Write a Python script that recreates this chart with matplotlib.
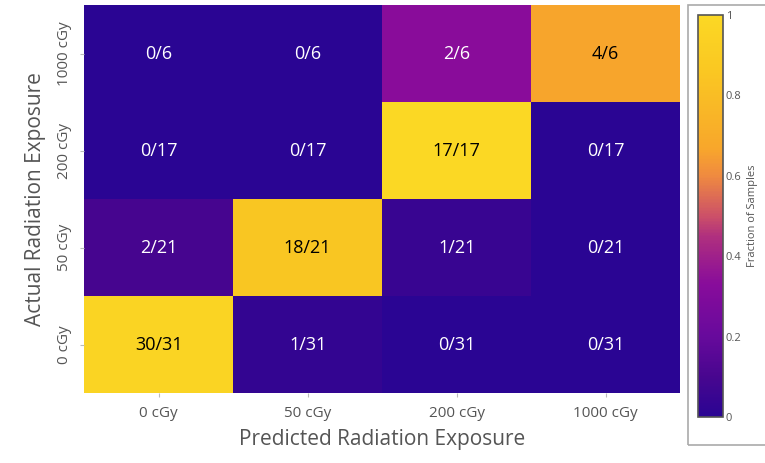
import matplotlib
matplotlib.use('Agg')
import matplotlib.pyplot as plt
import numpy as np
from matplotlib.colors import LinearSegmentedColormap
from matplotlib.patches import Rectangle

# Confusion matrix (rows = actual, columns = predicted)
dose_labels = ["0 cGy", "50 cGy", "200 cGy", "1000 cGy"]
row_0 = [30, 1, 0, 0]
row_50 = [2, 18, 1, 0]
row_200 = [0, 0, 17, 0]
row_1000 = [0, 0, 2, 4]
row_totals = [31, 21, 17, 6]

counts = np.array([row_0, row_50, row_200, row_1000])
frac = counts / np.array(row_totals)[:, None]

# colour scale
cmap = LinearSegmentedColormap.from_list("plasma_like", [
    (0.0, "#2a0593"), (0.1, "#48068f"), (0.2, "#670a9c"), (0.33, "#880c9b"),
    (0.45, "#b0307e"), (0.5, "#cc5068"), (0.6, "#ef8a40"), (0.67, "#f8a72b"),
    (0.86, "#fac722"), (1.0, "#fbd824")])

plt.rcParams['font.family'] = ['Open Sans', 'DejaVu Sans']
gray = '#555555'

fig = plt.figure(figsize=(7.65, 4.63), dpi=100)
ax = fig.add_axes([0.110, 0.151, 0.779, 0.838])
im = ax.imshow(frac, cmap=cmap, vmin=0, vmax=1, origin='lower', aspect='auto')

for i in range(len(dose_labels)):
    for j in range(len(dose_labels)):
        color = 'black' if frac[i, j] > 0.6 else 'white'
        ax.text(j, i, f"{counts[i, j]}/{row_totals[i]}", ha='center', va='center',
                fontsize=13, color=color)

ax.set_xticks(range(len(dose_labels)))
ax.set_xticklabels(dose_labels, fontsize=11, color=gray)
ax.set_yticks(range(len(dose_labels)))
ax.set_yticklabels(dose_labels, fontsize=11, color=gray, rotation=90, va='center')
ax.tick_params(length=3, color='#bbbbbb', pad=6)
for s in ax.spines.values():
    s.set_visible(False)
ax.set_xlabel("Predicted Radiation Exposure", fontsize=15, color=gray, labelpad=6)
ax.set_ylabel("Actual Radiation Exposure", fontsize=15, color=gray, labelpad=8)

# colour bar with its surrounding box
fig.patches.append(Rectangle((0.899, 0.039), 0.2, 0.95, transform=fig.transFigure,
                             fill=False, edgecolor='#aaaaaa', linewidth=1.2))
cax = fig.add_axes([0.912, 0.099, 0.033, 0.869])
cb = fig.colorbar(im, cax=cax, ticks=[0, 0.2, 0.4, 0.6, 0.8, 1])
cb.ax.set_yticklabels(["0", "0.2", "0.4", "0.6", "0.8", "1"])
cb.ax.tick_params(labelsize=8, colors=gray, length=0, pad=2)
cb.outline.set_edgecolor('#555555')
cb.outline.set_linewidth(1.2)
cb.ax.yaxis.set_label_position('right')
cb.set_label("Fraction of Samples", fontsize=8, color=gray, labelpad=4)

fig.savefig('out.png', dpi=100)
